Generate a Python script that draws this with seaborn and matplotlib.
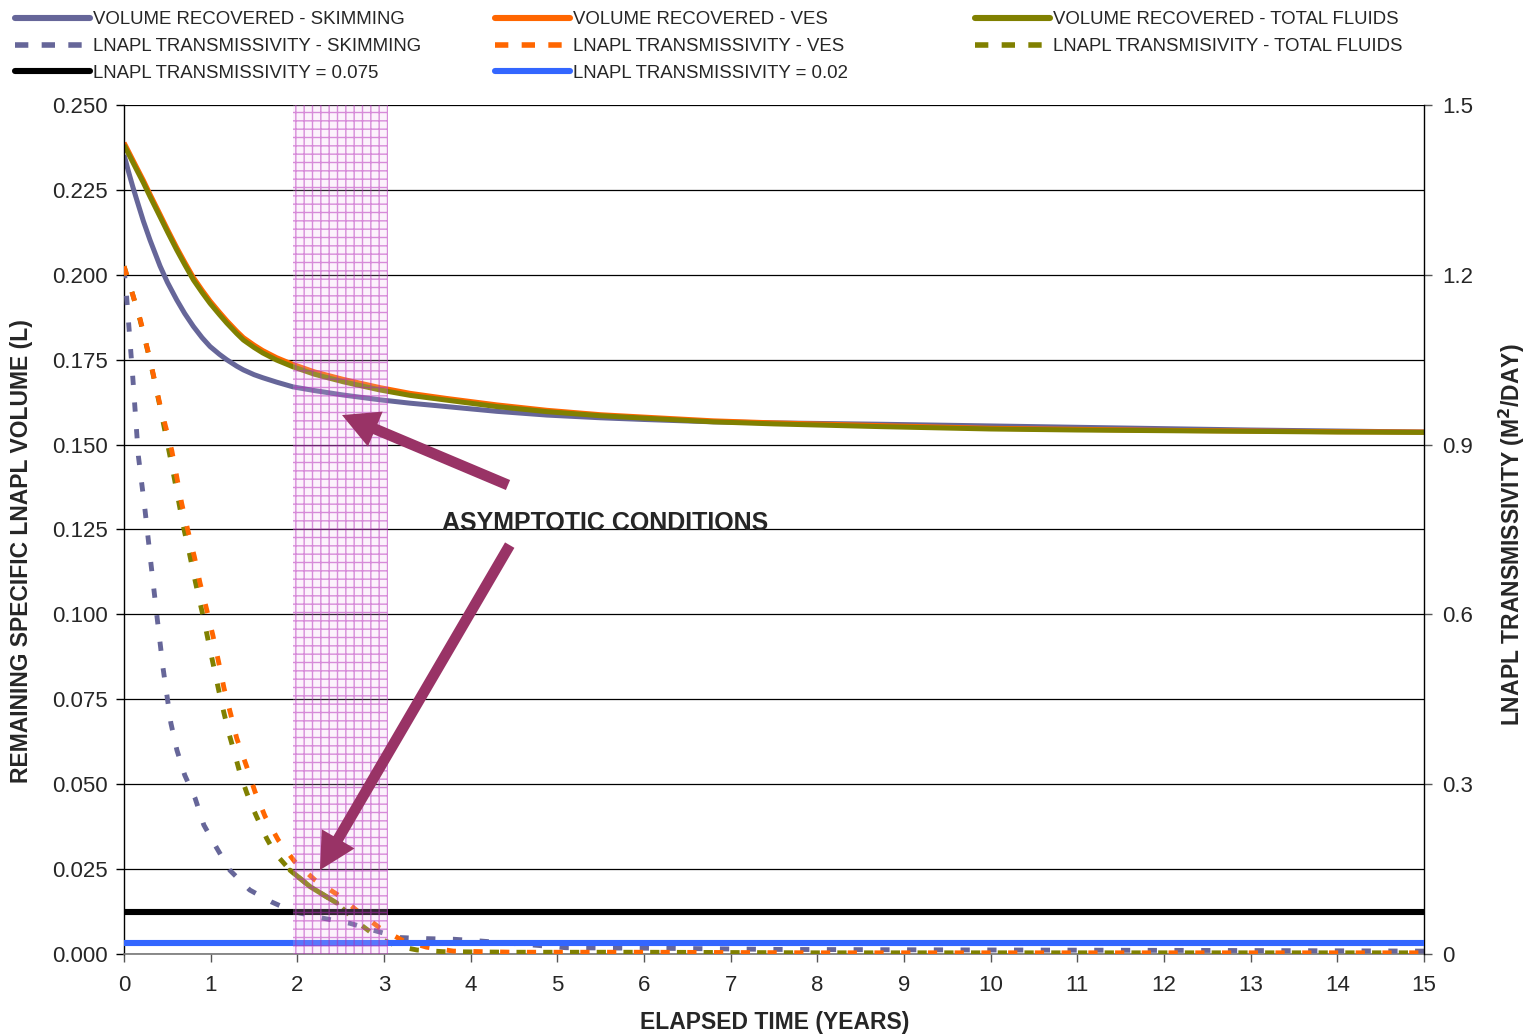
import numpy as np
import pandas as pd
import matplotlib
matplotlib.use("Agg")
import matplotlib.pyplot as plt
from matplotlib.lines import Line2D
import seaborn as sns

# ---------------- data ----------------
# Remaining specific LNAPL volume (L) - left axis
vol_years = [0, 0.05, 0.1, 0.15, 0.223, 0.3, 0.415, 0.5, 0.608, 0.7, 0.8, 0.9,
             0.992, 1.1, 1.185, 1.3, 1.377, 1.5, 1.6, 1.76, 1.95, 2.2, 2.53,
             2.95, 3.3, 3.72, 4.3, 4.88, 5.5, 6.0, 6.8, 7.5, 8.72, 10, 11, 12,
             13, 14, 15]
vol_skimming = [0.2353, 0.2305, 0.2260, 0.2218, 0.2158, 0.2102, 0.2026, 0.1978,
                0.1926, 0.1886, 0.1848, 0.1815, 0.1789, 0.1766, 0.1750, 0.1731,
                0.1720, 0.1706, 0.1697, 0.1684, 0.1670, 0.1659, 0.1646, 0.1632,
                0.1622, 0.1612, 0.1598, 0.1587, 0.1579, 0.1574, 0.1567, 0.1564,
                0.1560, 0.1555, 0.1551, 0.1547, 0.1543, 0.1540, 0.1537]
vol_ves = [0.2389, 0.2364, 0.2339, 0.2314, 0.2278, 0.2237, 0.2178, 0.2134,
           0.2080, 0.2037, 0.1992, 0.1955, 0.1923, 0.1890, 0.1865, 0.1834,
           0.1815, 0.1793, 0.1777, 0.1756, 0.1736, 0.1714, 0.1692, 0.1668,
           0.1651, 0.1636, 0.1617, 0.1601, 0.1588, 0.1581, 0.1570, 0.1564,
           0.1556, 0.1548, 0.1545, 0.1542, 0.1540, 0.1538, 0.1537]
vol_total_fluids = [0.2382, 0.2357, 0.2332, 0.2307, 0.2271, 0.2230, 0.2171,
                    0.2127, 0.2073, 0.2030, 0.1985, 0.1948, 0.1916, 0.1883,
                    0.1858, 0.1827, 0.1808, 0.1786, 0.1770, 0.1749, 0.1729,
                    0.1707, 0.1685, 0.1661, 0.1645, 0.1631, 0.1612, 0.1597,
                    0.1585, 0.1578, 0.1567, 0.1561, 0.1553, 0.1546, 0.1543,
                    0.1541, 0.1539, 0.1537, 0.1536]

# LNAPL transmissivity (m2/day) - right axis
tn_skim_years = [0, 0.03, 0.1, 0.165, 0.242, 0.31, 0.38, 0.45, 0.54, 0.61,
                 0.70, 0.82, 0.92, 1.07, 1.22, 1.45, 1.70, 1.95, 2.30, 2.61,
                 2.92, 3.18, 3.5, 3.8, 4.1, 4.7, 5.1, 6.2, 7.5, 10.0, 13.0, 15.0]
tn_skimming = [1.21, 1.16, 1.02, 0.88, 0.784, 0.69, 0.596, 0.505, 0.408, 0.36,
               0.316, 0.275, 0.228, 0.187, 0.148, 0.113, 0.092, 0.075, 0.063,
               0.054, 0.040, 0.029, 0.027, 0.026, 0.023, 0.016, 0.011, 0.010,
               0.008, 0.007, 0.006, 0.005]

tn_ves_years = [0, 0.1, 0.185, 0.3, 0.415, 0.55, 0.608, 0.665, 0.735, 0.811,
                0.877, 0.954, 1.023, 1.088, 1.154, 1.23, 1.30, 1.415, 1.51,
                1.627, 1.78, 1.97, 2.2, 2.47, 2.70, 2.95, 3.2, 3.49, 3.8, 4.5,
                6, 8, 10, 12, 15]
tn_ves = [1.215, 1.165, 1.122, 1.05, 0.97, 0.89, 0.843, 0.796, 0.749, 0.702,
          0.655, 0.608, 0.564, 0.518, 0.469, 0.424, 0.381, 0.331, 0.287, 0.243,
          0.201, 0.163, 0.131, 0.104, 0.075, 0.046, 0.025, 0.012, 0.005, 0.003,
          0.003, 0.002, 0.002, 0.002, 0.002]

tn_tf_years = [0, 0.1, 0.185, 0.30, 0.415, 0.531, 0.588, 0.638, 0.692, 0.754,
               0.808, 0.865, 0.923, 0.977, 1.038, 1.092, 1.154, 1.215, 1.28,
               1.338, 1.415, 1.473, 1.531, 1.646, 1.742, 1.915, 2.146, 2.454,
               2.685, 2.935, 3.15, 3.38, 3.68, 4.5, 6, 8, 10, 12, 15]
tn_total_fluids = [1.215, 1.165, 1.12, 1.049, 0.967, 0.879, 0.834, 0.793, 0.750,
                   0.708, 0.668, 0.628, 0.590, 0.549, 0.505, 0.466, 0.425, 0.387,
                   0.352, 0.319, 0.285, 0.262, 0.242, 0.204, 0.178, 0.148, 0.119,
                   0.090, 0.057, 0.028, 0.014, 0.007, 0.004, 0.003, 0.003, 0.002,
                   0.002, 0.002, 0.002]
tf_solid_span = (1.915, 2.454)

threshold_high = 0.075
threshold_low = 0.02
asymptotic_window = (1.95, 3.05)

left_ticks = [0.000, 0.025, 0.050, 0.075, 0.100, 0.125, 0.150, 0.175, 0.200,
              0.225, 0.250]
right_ticks = [0, 0.3, 0.6, 0.9, 1.2, 1.5]
right_tick_labels = ["0", "0.3", "0.6", "0.9", "1.2", "1.5"]
x_ticks = list(range(0, 16))

# ---------------- style ----------------
sns.set_theme(style="white")
plt.rcParams["font.family"] = ["Liberation Sans", "DejaVu Sans"]
plt.rcParams["hatch.linewidth"] = 1.0

C_SKIM = "#666699"
C_VES = "#FF6600"
C_TF = "#808000"
C_BLUE = "#3366FF"
C_ARROW = "#993366"

fig = plt.figure(figsize=(15.26, 10.36), dpi=100)
ax = fig.add_axes([0.0813, 0.0792, 0.8519, 0.8194])
ax2 = ax.twinx()

LW = 3.6
dash = (0, (1.9, 3.6))

# volume curves (left axis)
for yrs, vals, col in [(vol_years, vol_skimming, C_SKIM),
                       (vol_years, vol_ves, C_VES),
                       (vol_years, vol_total_fluids, C_TF)]:
    sns.lineplot(x=yrs, y=vals, ax=ax, color=col, lw=LW, sort=False,
                 estimator=None, solid_capstyle="butt", solid_joinstyle="round")

# transmissivity curves (right axis)
for yrs, vals, col in [(tn_skim_years, tn_skimming, C_SKIM),
                       (tn_tf_years, tn_total_fluids, C_TF),
                       (tn_ves_years, tn_ves, C_VES)]:
    sns.lineplot(x=yrs, y=vals, ax=ax2, color=col, lw=3.5, sort=False,
                 estimator=None, linestyle=dash, dash_capstyle="butt", zorder=2)

tf_df = pd.DataFrame({"t": tn_tf_years, "T": tn_total_fluids})
tf_seg = tf_df[(tf_df.t >= tf_solid_span[0]) & (tf_df.t <= tf_solid_span[1])]
sns.lineplot(data=tf_seg, x="t", y="T", ax=ax2, color=C_TF, lw=LW, sort=False,
             estimator=None, zorder=2.5)

ax2.axhline(threshold_high, color="black", lw=4.4, zorder=3)
ax2.axhline(threshold_low, color=C_BLUE, lw=4.4, zorder=3)

# asymptotic window
ax2.axvspan(*asymptotic_window, facecolor=(0.95, 0.75, 0.95, 0.2),
            edgecolor=(0.70, 0.15, 0.72, 0.5), hatch="++", lw=0, zorder=4)

# ---------------- axes ----------------
ax.set_xlim(0, 15)
ax.set_ylim(0, 0.25)
ax2.set_ylim(0, 1.5)
ax.set_xticks(x_ticks)
ax.set_xticklabels([str(v) for v in x_ticks])
ax.set_yticks(left_ticks)
ax.set_yticklabels([f"{v:.3f}" for v in left_ticks])
ax2.set_yticks(right_ticks)
ax2.set_yticklabels(right_tick_labels)
ax.set_xlabel("")
ax.set_ylabel("")
ax2.set_ylabel("")

ax.yaxis.grid(True, color="black", lw=0.9)
ax.xaxis.grid(False)
ax.set_axisbelow(True)

for a in (ax, ax2):
    for s in a.spines.values():
        s.set_visible(False)
ax.spines["left"].set_visible(True)
ax.spines["left"].set_color("black")
ax.spines["left"].set_linewidth(1.0)
ax.spines["bottom"].set_visible(True)
ax.spines["bottom"].set_color("#777777")
ax.spines["bottom"].set_linewidth(1.2)
ax2.spines["right"].set_visible(True)
ax2.spines["right"].set_color("black")
ax2.spines["right"].set_linewidth(1.0)

ax.tick_params(axis="y", direction="out", length=6, width=1, color="black",
               labelsize=16, pad=6, left=True)
ax.tick_params(axis="x", direction="out", length=6, width=1, color="#555555",
               labelsize=16, pad=9, bottom=True)
ax2.tick_params(axis="y", direction="out", length=6, width=1, color="#555555",
                labelsize=16, pad=7, right=True)

fig.text(0.0144, 0.4677, "REMAINING SPECIFIC LNAPL VOLUME (L)", rotation=90,
         ha="center", va="center", fontsize=16.5, fontweight="bold")
fig.text(0.9908, 0.4836, "LNAPL TRANSMISSIVITY (M$^\\mathbf{2}$/DAY)", rotation=90,
         ha="center", va="center", fontsize=16.5, fontweight="bold")
fig.text(0.5079, 0.0135, "ELAPSED TIME (YEARS)", ha="center", va="center",
         fontsize=16.5, fontweight="bold")

# annotation
arrow_kw = dict(arrowstyle="simple,head_length=2.0,head_width=2.1,tail_width=0.6",
                color=C_ARROW, mutation_scale=13, shrinkA=0, shrinkB=0, lw=0)
ax2.annotate("", xy=(2.515, 0.1587), xycoords=ax.transData,
             xytext=(4.43, 0.1381), textcoords=ax.transData,
             arrowprops=arrow_kw, zorder=6)
ax2.annotate("", xy=(2.26, 0.0247), xycoords=ax.transData,
             xytext=(4.45, 0.1204), textcoords=ax.transData,
             arrowprops=arrow_kw, zorder=6)
ax2.text(3.67, 0.1249, "ASYMPTOTIC CONDITIONS", transform=ax.transData,
         ha="left", va="baseline", fontsize=18, fontweight="bold", zorder=7)

# ---------------- legend ----------------
def solid(c):
    return Line2D([], [], color=c, lw=4.4, solid_capstyle="round")


def dashed(c):
    return Line2D([], [], color=c, lw=4.0, linestyle=(0, (2.4, 2.4)),
                  dash_capstyle="butt")


columns = [
    ([solid(C_SKIM), dashed(C_SKIM), solid("black")],
     ["VOLUME RECOVERED - SKIMMING", "LNAPL TRANSMISSIVITY - SKIMMING",
      "LNAPL TRANSMISSIVITY = 0.075"], 0.0098),
    ([solid(C_VES), dashed(C_VES), solid(C_BLUE)],
     ["VOLUME RECOVERED - VES", "LNAPL TRANSMISSIVITY - VES",
      "LNAPL TRANSMISSIVITY = 0.02"], 0.3244),
    ([solid(C_TF), dashed(C_TF)],
     ["VOLUME RECOVERED - TOTAL FLUIDS", "LNAPL TRANSMISIVITY - TOTAL FLUIDS"],
     0.6389),
]
for handles, labels, x0 in columns:
    fig.legend(handles, labels, loc="upper left", bbox_to_anchor=(x0, 0.989),
               frameon=False, fontsize=13.4, handlelength=4.05,
               handletextpad=0.12, labelspacing=0.52, borderpad=0,
               borderaxespad=0)

fig.savefig("out.png", dpi=100)
